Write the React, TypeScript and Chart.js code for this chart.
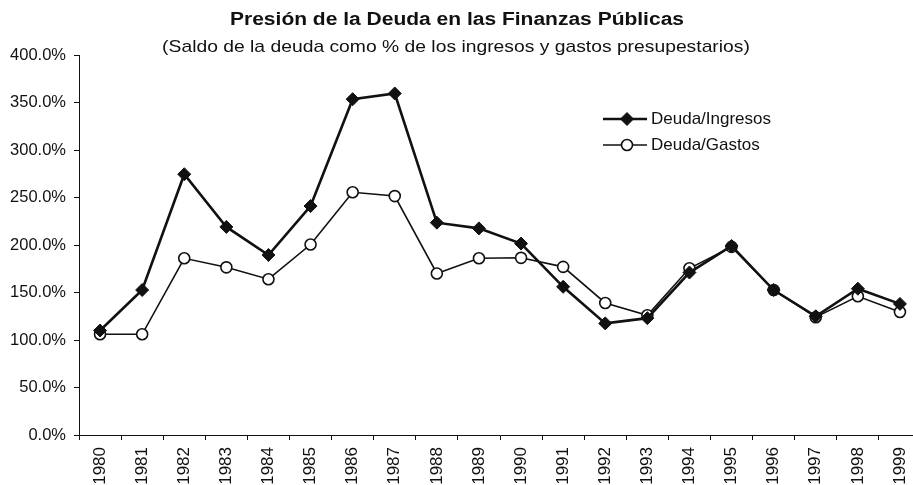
import React, { useEffect, useRef } from "react";
import { Chart, registerables } from "chart.js";

Chart.register(...registerables);

const years = ["1980","1981","1982","1983","1984","1985","1986","1987","1988","1989","1990","1991","1992","1993","1994","1995","1996","1997","1998","1999"];
const deudaIngresos = [110, 152.6, 274.5, 219, 189.5, 241, 353.5, 359.5, 223.5, 217.5, 201.5, 156, 117.5, 123, 171, 199, 152.6, 125, 154, 138];
const deudaGastos = [106, 106, 186, 176.5, 164, 200.5, 255.5, 251.5, 170, 186, 186.5, 177, 139, 126, 175.5, 198, 152.6, 124, 146, 129.5];
const yTicks = [0, 50, 100, 150, 200, 250, 300, 350, 400];

const titleText = "Presión de la Deuda en las Finanzas Públicas";
const subtitleText = "(Saldo de la deuda como % de los ingresos y gastos presupestarios)";
const FONT = "'Liberation Sans', Arial, sans-serif";

function stretchedText(ctx: CanvasRenderingContext2D, text: string, x: number, y: number, sx: number) {
  ctx.save();
  ctx.translate(x, y);
  ctx.scale(sx, 1);
  ctx.fillText(text, 0, 0);
  ctx.restore();
}

export default function App() {
  const ref = useRef<HTMLCanvasElement | null>(null);
  useEffect(() => {
    if (!ref.current) return;
    const titlePlugin = {
      id: "customTitleLegend",
      afterDraw(chart: any) {
        const ctx = chart.ctx;
        ctx.save();
        ctx.fillStyle = "#111";
        ctx.textAlign = "center";
        ctx.textBaseline = "middle";
        ctx.font = `bold 17.5px ${FONT}`;
        stretchedText(ctx, titleText, 457, 20, 1.2);
        ctx.font = `17px ${FONT}`;
        stretchedText(ctx, subtitleText, 456, 47.5, 1.135);
        // legend
        const items = chart.data.datasets;
        const x0 = 603, x1 = 647;
        const ys = [119, 145];
        items.forEach((ds: any, i: number) => {
          const y = ys[i];
          ctx.strokeStyle = "#111";
          ctx.lineWidth = ds.borderWidth;
          ctx.beginPath();
          ctx.moveTo(x0, y);
          ctx.lineTo(x1, y);
          ctx.stroke();
          const cx = (x0 + x1) / 2 + 2;
          ctx.lineWidth = ds.pointBorderWidth;
          ctx.fillStyle = ds.pointBackgroundColor;
          ctx.beginPath();
          if (ds.pointStyle === "rectRot") {
            const r = ds.pointRadius;
            ctx.moveTo(cx, y - r);
            ctx.lineTo(cx + r, y);
            ctx.lineTo(cx, y + r);
            ctx.lineTo(cx - r, y);
            ctx.closePath();
          } else {
            ctx.arc(cx, y, ds.pointRadius, 0, Math.PI * 2);
          }
          ctx.fill();
          ctx.stroke();
          ctx.fillStyle = "#111";
          ctx.textAlign = "left";
          ctx.font = `17px ${FONT}`;
          ctx.fillText(ds.label, 651, y);
        });
        ctx.restore();
      },
    };
    const chart = new Chart(ref.current, {
      type: "line",
      data: {
        labels: years,
        datasets: [
          {
            label: "Deuda/Ingresos",
            data: deudaIngresos,
            borderColor: "#111",
            borderWidth: 2.6,
            pointStyle: "rectRot",
            pointRadius: 6.5,
            pointBackgroundColor: "#111",
            pointBorderColor: "#111",
            pointBorderWidth: 1,
            tension: 0,
          },
          {
            label: "Deuda/Gastos",
            data: deudaGastos,
            borderColor: "#111",
            borderWidth: 1.6,
            pointStyle: "circle",
            pointRadius: 5.5,
            pointBackgroundColor: "#fff",
            pointBorderColor: "#111",
            pointBorderWidth: 1.6,
            tension: 0,
          },
        ],
      },
      options: {
        responsive: false,
        animation: false,
        layout: { padding: { top: 55, left: 0, right: 9, bottom: 0 } },
        plugins: { legend: { display: false }, title: { display: false }, tooltip: { enabled: false } },
        scales: {
          x: {
            type: "category",
            offset: true,
            afterFit(scale: any) { scale.height = 50; },
            grid: { offset: true, drawOnChartArea: false, drawTicks: true, tickLength: 5, color: "#111", tickWidth: 1 },
            border: { display: true, color: "#111", width: 1 },
            ticks: { color: "#111", font: { family: FONT, size: 17 }, minRotation: 90, maxRotation: 90, autoSkip: false, padding: 7 },
          },
          y: {
            min: 0,
            max: 400,
            afterFit(scale: any) { scale.width = 79; },
            afterBuildTicks(scale: any) { scale.ticks = yTicks.map((v) => ({ value: v })); },
            grid: { drawOnChartArea: false, drawTicks: true, tickLength: 5, color: "#111", tickWidth: 1 },
            border: { display: true, color: "#111", width: 1 },
            ticks: { color: "#111", font: { family: FONT, size: 16.5 }, padding: 8, callback: (v: any) => Number(v).toFixed(1) + "%" },
          },
        },
      },
      plugins: [titlePlugin],
    });
    return () => chart.destroy();
  }, []);
  return (
    <div style={{ position: "fixed", left: 0, top: 0, width: 930, height: 485, background: "#fff" }}>
      <canvas ref={ref} width={930} height={485} />
    </div>
  );
}
